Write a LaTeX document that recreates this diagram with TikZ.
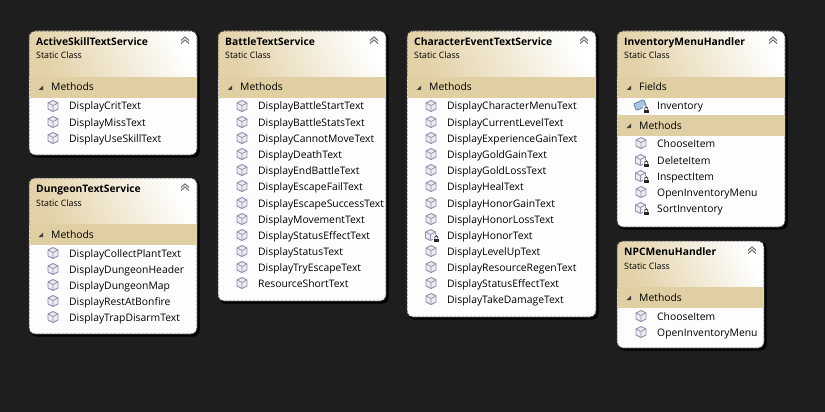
\documentclass[tikz,border=0pt]{standalone}
\usepackage{fontspec}
\setmainfont{Open Sans}
\usetikzlibrary{calc}
\definecolor{bgc}{HTML}{1E1E1E}
\definecolor{bandc}{HTML}{DFCFA3}
\definecolor{headc}{HTML}{E3D2A8}
\definecolor{cubec}{HTML}{9A90B0}
\definecolor{cubef}{HTML}{EDEAF2}
\definecolor{bodyc}{HTML}{FDFDFD}
\definecolor{fieldf}{HTML}{A9C6E4}
\definecolor{fieldd}{HTML}{5E7FA8}
\tikzset{
  itemtext/.style={anchor=west,inner sep=0pt,text height=9.5pt,text depth=1.5pt,font=\fontsize{10.35}{12}\selectfont,text=black},
  titletext/.style={anchor=west,inner sep=0pt,text height=9.5pt,text depth=1.5pt,font=\fontsize{10.3}{12}\selectfont\bfseries,text=black},
  subtext/.style={anchor=west,inner sep=0pt,text height=9.5pt,text depth=1.5pt,font=\fontsize{8.8}{11}\selectfont,text=black},
  cubeline/.style={draw=cubec,line width=0.9pt,line join=round,fill=cubef},
  chev/.style={draw=black!55,line width=1.1pt},
}
\newcount\nodeno
\newcommand{\nextname}{\global\advance\nodeno by 1 \edef\nn{n\the\nodeno}}
% box: x1 y1 x2 y2 header-bottom title
\newcommand{\classbox}[6]{%
  \fill[black,rounded corners=6pt] (#1+1,#2+1) rectangle (#3+2.5,#4+2.5);
  \fill[bodyc,rounded corners=6pt] (#1,#2) rectangle (#3,#4);
  \begin{scope}
    \clip[rounded corners=6pt] (#1,#2) rectangle (#3,#4);
    \shade[left color=headc,right color=white,shading angle=115] (#1,#2) rectangle (#3,#5);
  \end{scope}
  \draw[black!75,line width=0.9pt,dash pattern=on 3pt off 1pt,rounded corners=6pt] (#1,#2) rectangle (#3,#4);
  \nextname
  \node[titletext] (\nn) at (#1+7,#2+10.5) {#6};
  \nextname
  \node[subtext] (\nn) at (#1+7,#2+24) {Static Class};
  \draw[chev] (#3-16,#2+9.5) -- (#3-12,#2+6) -- (#3-8,#2+9.5);
  \draw[chev] (#3-16,#2+12.5) -- (#3-12,#2+9) -- (#3-8,#2+12.5);
}
% band: x1 x2 y-top label
\newcommand{\band}[4]{%
  \fill[bandc] (#1+0.5,#3) rectangle (#2-0.5,#3+21);
  \fill[black!75] (#1+14,#3+8.5) -- (#1+14,#3+13) -- (#1+9.5,#3+13) -- cycle;
  \nextname
  \node[itemtext] (\nn) at (#1+22,#3+10) {#4};
}
\newcommand{\cube}[2]{%
  \draw[cubeline] (#1,#2-5.5) -- (#1+5,#2-3) -- (#1+5,#2+3) -- (#1,#2+5.5) -- (#1-5,#2+3) -- (#1-5,#2-3) -- cycle;
  \draw[draw=cubec,line width=0.8pt] (#1-5,#2-3) -- (#1,#2-0.5) -- (#1+5,#2-3) (#1,#2-0.5) -- (#1,#2+5.5);
}
\newcommand{\lockicon}[2]{%
  \fill[white] (#1+2.5,#2-0.5) rectangle (#1+9,#2+7.5);
  \draw[black!85,line width=0.8pt] (#1+4.2,#2+3.5) -- (#1+4.2,#2+2.2) arc[start angle=180,end angle=360,radius=1.5] -- (#1+7.2,#2+3.5);
  \fill[black!85] (#1+3.3,#2+3.5) rectangle (#1+8.2,#2+7);
}
% method item: box x1, y, text
\newcommand{\meth}[3]{%
  \cube{#1+31}{#2}%
  \nextname
  \node[itemtext] (\nn) at (#1+47,#2) {#3};
}
\newcommand{\lmeth}[3]{%
  \cube{#1+30.5}{#2}%
  \lockicon{#1+30.5}{#2}%
  \nextname
  \node[itemtext] (\nn) at (#1+47,#2) {#3};
}
\newcommand{\lfield}[3]{%
  \fill[fieldf,draw=fieldd,line width=0.8pt,rounded corners=1pt,rotate around={25:(#1+30,#2-1)}] (#1+24.5,#2-4.5) rectangle (#1+35.5,#2+2.5);
  \lockicon{#1+30.5}{#2}%
  \nextname
  \node[itemtext] (\nn) at (#1+47,#2) {#3};
}
\begin{document}
\begin{tikzpicture}[x=1pt,y=-1pt]
\useasboundingbox (0,0) rectangle (825,412);
\fill[bgc] (0,0) rectangle (825,412);
% ActiveSkillTextService
\classbox{29}{31}{197}{155}{77}{ActiveSkillTextService}
\band{29}{197}{77}{Methods}
\meth{22}{106}{DisplayCritText}
\meth{22}{122}{DisplayMissText}
\meth{22}{138}{DisplayUseSkillText}
% DungeonTextService
\classbox{29}{178}{197}{334}{224}{DungeonTextService}
\band{29}{197}{224}{Methods}
\meth{22}{253}{DisplayCollectPlantText}
\meth{22}{269}{DisplayDungeonHeader}
\meth{22}{285}{DisplayDungeonMap}
\meth{22}{301}{DisplayRestAtBonfire}
\meth{22}{317}{DisplayTrapDisarmText}
% BattleTextService
\classbox{218}{31}{386}{301}{77}{BattleTextService}
\band{218}{386}{77}{Methods}
\meth{211}{106}{DisplayBattleStartText}
\meth{211}{122}{DisplayBattleStatsText}
\meth{211}{138}{DisplayCannotMoveText}
\meth{211}{154}{DisplayDeathText}
\meth{211}{170}{DisplayEndBattleText}
\meth{211}{186}{DisplayEscapeFailText}
\meth{211}{203}{DisplayEscapeSuccessText}
\meth{211}{219}{DisplayMovementText}
\meth{211}{235}{DisplayStatusEffectText}
\meth{211}{251}{DisplayStatusText}
\meth{211}{267}{DisplayTryEscapeText}
\meth{211}{283}{ResourceShortText}
% CharacterEventTextService
\classbox{407}{31}{596}{317}{77}{CharacterEventTextService}
\band{407}{596}{77}{Methods}
\meth{400}{106}{DisplayCharacterMenuText}
\meth{400}{122}{DisplayCurrentLevelText}
\meth{400}{138}{DisplayExperienceGainText}
\meth{400}{154}{DisplayGoldGainText}
\meth{400}{170}{DisplayGoldLossText}
\meth{400}{186}{DisplayHealText}
\meth{400}{203}{DisplayHonorGainText}
\meth{400}{219}{DisplayHonorLossText}
\lmeth{400}{235}{DisplayHonorText}
\meth{400}{251}{DisplayLevelUpText}
\meth{400}{267}{DisplayResourceRegenText}
\meth{400}{283}{DisplayStatusEffectText}
\meth{400}{299}{DisplayTakeDamageText}
% InventoryMenuHandler
\classbox{617}{31}{785}{227}{77}{InventoryMenuHandler}
\band{617}{785}{77}{Fields}
\lfield{610}{106}{Inventory}
\band{617}{785}{115}{Methods}
\meth{610}{143}{ChooseItem}
\lmeth{610}{160}{DeleteItem}
\lmeth{610}{176}{InspectItem}
\meth{610}{192}{OpenInventoryMenu}
\lmeth{610}{208}{SortInventory}
% NPCMenuHandler
\classbox{617}{241}{764}{348}{287}{NPCMenuHandler}
\band{617}{764}{287}{Methods}
\meth{610}{316}{ChooseItem}
\meth{610}{332}{OpenInventoryMenu}
\end{tikzpicture}
\end{document}
